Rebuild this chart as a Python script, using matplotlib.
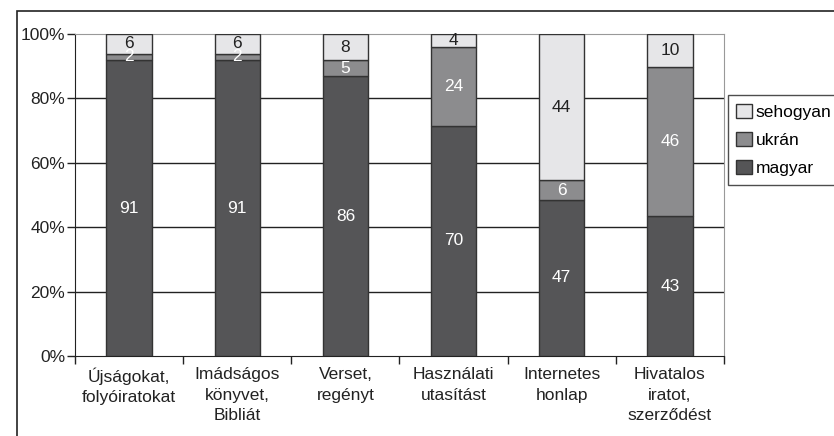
import numpy as np
import matplotlib.pyplot as plt
from matplotlib.patches import Rectangle

plt.rcParams['font.family'] = ['Liberation Sans', 'DejaVu Sans']

categories = ['Újságokat,\nfolyóiratokat', 'Imádságos\nkönyvet,\nBibliát', 'Verset,\nregényt',
              'Használati\nutasítást', 'Internetes\nhonlap', 'Hivatalos\niratot,\nszerződést']
magyar = [91, 91, 86, 70, 47, 43]
ukran = [2, 2, 5, 24, 6, 46]
sehogyan = [6, 6, 8, 4, 44, 10]

series = [('magyar', magyar, '#555557', 'white'),
          ('ukrán', ukran, '#8c8c8e', 'white'),
          ('sehogyan', sehogyan, '#e6e6e8', '#222222')]

totals = np.array(magyar) + np.array(ukran) + np.array(sehogyan)
fs = 12.5

fig = plt.figure(figsize=(8.34, 4.36), dpi=100)
ax = fig.add_axes([0.09, 0.1835, 0.778, 0.7385])

# outer chart frame (cut off at right/bottom)
fig.patches.append(Rectangle((17 / 834, -0.05), 1.2, 1 - 10.5 / 436 + 0.05,
                             transform=fig.transFigure, fill=False,
                             edgecolor='#222222', linewidth=1.2, zorder=0))

x = np.arange(len(categories))
bottom = np.zeros(len(categories))
handles = {}
for name, vals, color, tcolor in series:
    pct = np.array(vals) / totals
    bars = ax.bar(x, pct, 0.42, bottom=bottom, color=color, edgecolor='#333333',
                  linewidth=1, zorder=3, label=name)
    handles[name] = bars
    for xi, b, p, v in zip(x, bottom, pct, vals):
        ax.text(xi, b + p / 2, str(v), ha='center', va='center', color=tcolor,
                fontsize=fs, zorder=4)
    bottom += pct

ax.set_xlim(-0.5, len(categories) - 0.5)
ax.set_ylim(0, 1)
ax.set_yticks(np.arange(0, 1.01, 0.2))
ax.set_yticklabels([f'{int(round(v * 100))}%' for v in np.arange(0, 1.01, 0.2)])
ax.set_xticks(x)
ax.set_xticklabels(categories, linespacing=1.45)
ax.set_xticks(np.arange(-0.5, len(categories)), minor=True)
ax.tick_params(axis='x', which='major', length=0, pad=8, labelsize=fs, colors='#222222')
ax.tick_params(axis='x', which='minor', length=6, width=1, color='#222222', direction='out')
ax.tick_params(axis='y', length=6, width=1, color='#222222', labelsize=fs,
               labelcolor='#222222', pad=1)

for yv in [0.2, 0.4, 0.6, 0.8]:
    ax.axhline(yv, color='#222222', linewidth=1, zorder=1)
ax.spines['top'].set_color('#999999')
ax.spines['right'].set_color('#999999')
ax.spines['left'].set_color('#222222')
ax.spines['bottom'].set_color('#222222')

leg = ax.legend([handles['sehogyan'], handles['ukrán'], handles['magyar']],
                ['sehogyan', 'ukrán', 'magyar'], loc='upper left',
                bbox_to_anchor=(1.006, 0.81), frameon=True, fancybox=False,
                handlelength=0.9, handleheight=0.9, handletextpad=0.2,
                borderpad=0.5, labelspacing=0.68, fontsize=fs, borderaxespad=0)
leg.get_frame().set_edgecolor('#222222')
leg.get_frame().set_linewidth(1)

fig.savefig('out.png', dpi=100)
